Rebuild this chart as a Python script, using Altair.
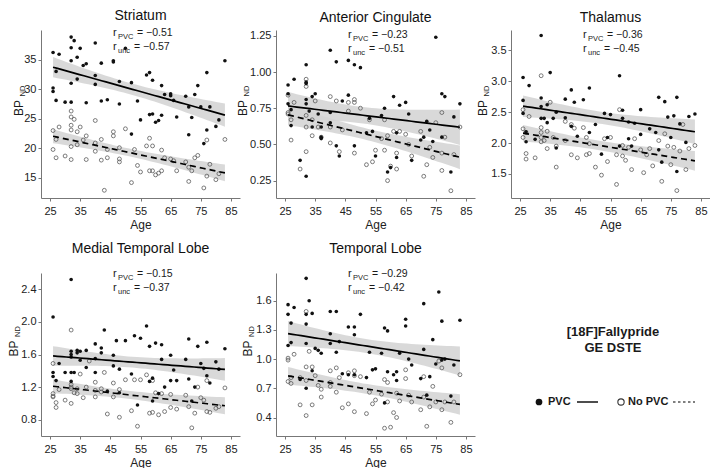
import altair as alt
import numpy as np
import pandas as pd

FONT = "Liberation Sans, Arial, Helvetica, sans-serif"
AGE_TICKS = [25, 35, 45, 55, 65, 75, 85]
AGE_DOMAIN = [22, 88]

# ---------------- data (age, BPnd) ----------------
STR_PVC = [(26,36.2),(26,30.2),(26,29.6),(27,33.0),(27,28.1),(28,35.9),(30,27.8),(32,38.8),(32,37.0),(32,34.8),
           (32,31.0),(32,27.8),(33,38.2),(34,35.4),(34,31.7),(35,36.9),(36,34.0),(37,34.3),(37,27.7),(40,37.8),
           (40,32.3),(40,30.8),(42,34.4),(42,28.0),(44,28.2),(46,34.8),(46,34.6),(48,31.3),(48,27.5),(50,36.9),
           (52,31.1),(52,22.4),(54,28.0),(55,24.8),(57,32.4),(58,32.8),(58,25.7),(59,25.8),(59,31.5),(60,24.4),
           (61,24.7),(62,30.6),(62,25.6),(63,29.1),(65,29.2),(65,28.9),(66,28.1),(67,25.3),(70,28.8),(71,27.0),
           (71,22.3),(72,25.2),(73,29.1),(74,30.6),(75,27.0),(76,20.8),(77,32.8),(77,23.1),(78,27.0),(80,23.7),
           (81,24.8),(83,34.8)]
STR_NOPVC = [(26,23.0),(26,19.8),(27,21.5),(27,18.4),(28,23.6),(30,18.7),(32,26.3),(32,25.3),(32,23.9),(32,23.1),
             (32,20.3),(32,18.1),(33,24.9),(34,22.8),(34,20.6),(35,23.6),(36,21.4),(37,22.1),(37,18.1),(40,24.7),
             (40,20.9),(40,19.5),(42,21.5),(42,18.0),(43,12.9),(44,19.8),(44,18.4),(46,22.8),(46,22.1),(48,20.1),
             (48,18.2),(48,17.7),(50,23.3),(52,14.2),(53,19.8),(54,17.1),(55,16.0),(57,20.4),(58,21.7),(58,16.2),
             (59,20.4),(59,16.2),(60,15.5),(61,15.8),(62,16.2),(62,19.7),(63,18.4),(65,18.2),(66,17.9),(67,16.2),
             (70,17.7),(71,16.8),(71,14.4),(72,16.2),(73,18.4),(74,18.8),(76,13.3),(77,21.4),(77,15.3),(78,17.3),
             (80,14.7),(81,15.7),(83,21.5)]

AC_PVC = [(26,0.91),(26,0.85),(26,0.78),(27,0.74),(27,0.63),(28,0.95),(30,0.39),(32,1.05),(32,0.93),(32,0.92),
          (32,0.81),(32,0.78),(32,0.28),(33,0.73),(34,0.83),(34,0.62),(35,0.85),(36,0.71),(37,0.62),(37,0.55),
          (37,0.54),(40,1.15),(40,0.72),(40,0.65),(42,1.07),(42,0.49),(43,0.42),(44,0.80),(46,1.08),(46,0.84),
          (48,1.05),(48,0.49),(50,1.03),(52,0.58),(53,0.68),(54,0.59),(55,0.42),(57,0.70),(58,0.75),(59,0.31),
          (60,0.34),(61,0.83),(62,0.58),(62,0.41),(63,0.77),(65,0.79),(66,0.71),(67,0.39),(70,0.53),(71,0.55),
          (72,0.66),(73,0.60),(74,0.52),(75,1.24),(77,0.85),(78,0.83),(77,0.55),(80,0.31),(81,0.69),(83,0.78)]
AC_NOPVC = [(26,0.84),(26,0.72),(26,0.71),(27,0.67),(27,0.53),(28,0.79),(30,0.33),(32,0.95),(32,0.90),(32,0.70),
            (32,0.62),(32,0.45),(34,0.67),(34,0.56),(35,0.80),(36,0.62),(37,0.55),(40,0.83),(40,0.62),(40,0.51),
            (42,0.80),(43,0.45),(44,0.60),(46,0.79),(46,0.73),(48,0.81),(48,0.79),(48,0.44),(50,0.75),(52,0.36),
            (53,0.67),(54,0.38),(55,0.46),(57,0.54),(58,0.46),(58,0.67),(59,0.56),(59,0.25),(60,0.35),(61,0.59),
            (62,0.44),(62,0.33),(63,0.59),(65,0.57),(66,0.50),(67,0.42),(70,0.59),(71,0.28),(72,0.36),(73,0.48),
            (74,0.41),(75,0.65),(77,0.44),(77,0.72),(77,0.32),(78,0.55),(80,0.18),(81,0.43),(83,0.62)]

TH_PVC = [(26,3.06),(26,2.69),(26,2.48),(27,2.18),(27,2.02),(28,2.93),(30,2.06),(32,3.74),(32,2.73),(32,2.59),
          (32,2.40),(33,2.40),(34,2.62),(34,2.33),(35,3.14),(36,2.40),(37,2.50),(37,1.92),(40,2.71),(40,2.41),
          (42,2.86),(42,2.27),(43,2.66),(44,2.11),(46,2.70),(48,2.89),(48,2.17),(50,2.30),(52,1.82),(53,2.48),
          (54,2.09),(55,2.46),(58,3.09),(58,1.95),(59,2.40),(59,2.53),(61,2.34),(61,2.07),(62,1.95),(63,2.32),
          (65,2.54),(65,2.14),(68,2.23),(70,2.17),(71,2.74),(71,1.89),(72,1.69),(73,2.67),(74,2.42),(75,2.09),
          (76,2.44),(77,2.74),(77,1.54),(78,2.31),(80,2.01),(81,2.43),(83,2.47)]
TH_NOPVC = [(26,2.54),(26,2.23),(26,2.09),(27,2.17),(27,1.83),(27,1.74),(28,2.43),(30,1.76),(32,3.09),(32,2.25),
            (32,2.17),(32,2.09),(32,2.02),(33,2.04),(34,2.19),(34,1.91),(35,2.66),(36,2.09),(37,1.95),(37,1.61),
            (40,2.35),(40,2.04),(42,2.30),(42,1.81),(43,2.24),(44,1.76),(46,2.25),(47,2.09),(47,1.81),(48,1.99),
            (48,1.83),(50,1.61),(52,1.48),(53,2.07),(54,1.70),(55,2.09),(57,1.81),(57,1.33),(58,2.54),(59,1.96),
            (59,1.79),(60,1.72),(61,1.93),(62,1.57),(63,2.07),(65,1.89),(66,1.52),(67,1.81),(68,1.91),(69,1.63),
            (71,2.04),(72,1.38),(73,2.15),(74,1.95),(75,1.65),(76,1.93),(77,1.23),(78,1.87),(79,2.30),(80,1.57),
            (81,1.91),(83,1.96)]

MTL_PVC = [(26,2.06),(26,1.38),(26,1.33),(27,1.28),(28,1.49),(30,1.38),(32,2.52),(32,1.64),(32,1.60),(32,1.57),
           (32,1.38),(32,1.27),(33,1.38),(34,1.65),(34,1.62),(35,1.64),(35,1.53),(37,1.65),(37,1.44),(40,1.73),
           (40,1.55),(40,1.38),(42,1.68),(42,1.62),(43,1.90),(44,1.15),(46,1.59),(46,1.46),(47,1.77),(48,1.42),
           (48,1.13),(50,1.77),(52,1.36),(53,1.83),(54,0.98),(55,1.80),(57,1.95),(58,1.70),(58,1.27),(59,1.31),
           (59,1.03),(60,1.74),(61,1.12),(62,1.72),(62,1.54),(63,1.20),(65,1.59),(65,1.28),(66,1.41),(67,1.28),
           (70,1.54),(71,1.79),(71,1.30),(72,1.03),(73,1.20),(74,1.70),(75,1.49),(76,1.43),(77,1.75),(77,1.34),
           (78,1.25),(80,1.51),(81,1.42),(83,1.67)]
MTL_NOPVC = [(26,1.49),(26,1.12),(26,1.09),(26,1.08),(27,1.01),(27,0.95),(28,1.17),(30,1.04),(32,1.90),(32,1.23),
             (32,1.20),(32,1.18),(32,1.00),(33,1.13),(34,1.18),(34,1.12),(35,1.36),(36,1.07),(37,1.20),(38,1.52),
             (40,1.26),(40,1.16),(40,1.08),(42,1.18),(42,1.14),(43,1.38),(44,0.87),(46,1.25),(46,1.08),(48,1.17),
             (48,0.83),(50,1.29),(52,0.91),(53,1.29),(54,0.72),(55,1.29),(57,1.35),(58,0.88),(59,1.28),(59,0.89),
             (60,1.13),(61,0.86),(62,1.12),(63,0.90),(65,1.11),(65,0.95),(67,0.93),(70,1.10),(71,0.96),(72,0.70),
             (73,0.88),(74,1.20),(75,1.07),(76,1.04),(77,1.28),(77,0.90),(78,0.89),(80,0.94),(81,0.96),(83,1.19)]

TL_PVC = [(26,1.56),(26,1.46),(26,1.14),(27,1.37),(27,1.17),(28,1.53),(30,0.79),(32,1.83),(32,1.46),(32,1.36),
          (32,1.16),(32,0.70),(33,1.60),(34,1.47),(34,0.88),(35,1.11),(36,1.09),(37,1.06),(40,1.49),(40,1.26),
          (40,1.16),(42,1.49),(42,1.07),(43,1.18),(44,0.85),(46,1.33),(46,0.84),(48,1.33),(48,1.25),(48,0.84),
          (50,1.46),(52,0.81),(53,1.07),(54,0.89),(55,0.90),(57,1.06),(58,1.32),(58,0.55),(59,1.29),(59,0.87),
          (61,0.84),(62,0.87),(62,0.78),(63,1.06),(65,1.41),(65,1.34),(66,1.00),(67,0.94),(70,0.80),(71,1.57),
          (71,1.10),(72,0.63),(73,0.82),(74,1.20),(75,0.95),(76,1.69),(77,1.39),(77,0.99),(78,1.00),(80,0.62),
          (81,0.94),(83,1.40)]
TL_NOPVC = [(26,1.01),(26,0.99),(26,0.77),(27,0.81),(27,0.75),(28,1.05),(30,0.81),(30,0.53),(32,1.49),(32,0.92),
            (32,0.78),(32,0.42),(33,1.08),(34,0.92),(34,0.53),(35,0.83),(36,0.73),(37,0.69),(37,0.61),(40,0.88),
            (40,0.76),(40,0.72),(42,0.91),(42,0.66),(43,0.81),(44,0.50),(46,0.86),(46,0.54),(48,0.88),(48,0.83),
            (48,0.46),(50,0.82),(52,0.44),(53,0.66),(54,0.54),(55,0.58),(57,0.64),(58,0.79),(58,0.29),(59,0.76),
            (59,0.56),(60,0.30),(61,0.45),(62,0.40),(62,0.65),(63,0.57),(65,0.89),(65,0.80),(66,0.63),(67,0.56),
            (70,0.48),(71,0.82),(71,0.61),(72,0.31),(73,0.51),(74,0.72),(75,0.56),(76,0.98),(77,0.91),(77,0.48),
            (78,0.56),(80,0.35),(81,0.56),(83,0.84)]

R_TEXT = {
    "Striatum": ("\u22120.51", "\u22120.57"),
    "Anterior Cingulate": ("\u22120.23", "\u22120.51"),
    "Thalamus": ("\u22120.36", "\u22120.45"),
    "Medial Temporal Lobe": ("\u22120.15", "\u22120.37"),
    "Temporal Lobe": ("\u22120.29", "\u22120.42"),
}

W = 199
H_TOP = 168
H_BOT = 163
BAND = "#d2d2d2"
TXT = pd.DataFrame({"k": [0]})


def to_df(pairs):
    return pd.DataFrame({"age": [a for a, _ in pairs], "bp": [b for _, b in pairs]})


def fit_df(pairs):
    x = np.array([a for a, _ in pairs], float)
    y = np.array([b for _, b in pairs], float)
    n = len(x)
    slope, icpt = np.polyfit(x, y, 1)
    res = y - (icpt + slope * x)
    s = np.sqrt((res ** 2).sum() / (n - 2))
    xm = x.mean()
    sxx = ((x - xm) ** 2).sum()
    g = np.linspace(x.min(), x.max(), 40)
    f = icpt + slope * g
    se = s * np.sqrt(1.0 / n + (g - xm) ** 2 / sxx)
    t = 2.0
    return pd.DataFrame({"age": g, "fit": f, "lo": f - t * se, "hi": f + t * se})


def label(text, x, y, size=11, weight="normal", align="left", angle=0, color="#1a1a1a"):
    kw = dict(text=text, fontSize=size, fontWeight=weight, align=align, baseline="middle",
              font=FONT, color=color)
    if angle:
        kw["angle"] = angle
    return alt.Chart(TXT).mark_text(**kw).encode(x=alt.value(x), y=alt.value(y))


def panel(title, pvc, nop, ydom, yvals, yfmt, bp_dx, r_y, H, toff):
    xenc = alt.X("age:Q", scale=alt.Scale(domain=AGE_DOMAIN, nice=False, zero=False),
                 axis=alt.Axis(values=AGE_TICKS, title="Age"))

    def yenc(field):
        return alt.Y(f"{field}:Q", scale=alt.Scale(domain=ydom, nice=False, zero=False),
                     axis=alt.Axis(values=yvals, format=yfmt, title=None))

    fp, fn = fit_df(pvc), fit_df(nop)
    band_p = alt.Chart(fp).mark_area(color=BAND, opacity=0.85).encode(x=xenc, y=yenc("lo"), y2="hi:Q")
    band_n = alt.Chart(fn).mark_area(color=BAND, opacity=0.85).encode(x=xenc, y=yenc("lo"), y2="hi:Q")
    pts_n = alt.Chart(to_df(nop)).mark_point(shape="circle", filled=False, size=15, color="#5a5a5a",
                                             strokeWidth=0.8, opacity=1).encode(x=xenc, y=yenc("bp"))
    pts_p = alt.Chart(to_df(pvc)).mark_point(shape="circle", filled=True, size=13, color="#111111",
                                             opacity=1).encode(x=xenc, y=yenc("bp"))
    line_p = alt.Chart(fp).mark_line(color="black", strokeWidth=1.7).encode(x=xenc, y=yenc("fit"))
    line_n = alt.Chart(fn).mark_line(color="black", strokeWidth=1.7, strokeDash=[6, 4]).encode(
        x=xenc, y=yenc("fit"))

    rp, ru = R_TEXT[title]
    x0 = 72
    y1, y2 = r_y, r_y + 14
    texts = [
        label("r", x0, y1, size=11),
        label("PVC", x0 + 5, y1 + 3.5, size=7.5),
        label("= " + rp, x0 + 24, y1, size=10.5),
        label("r", x0, y2, size=11),
        label("unc", x0 + 5, y2 + 3.5, size=7.5),
        label("= " + ru, x0 + 21, y2, size=10.5),
        label("BP", bp_dx, H / 2 - 6, size=12, align="center", angle=270),
        label("ND", bp_dx + 3.5, H / 2 - 23, size=7.5, align="center", angle=270),
    ]
    return alt.layer(band_p, band_n, pts_n, pts_p, line_p, line_n, *texts).properties(
        width=W, height=H,
        title=alt.TitleParams(title, fontSize=14, fontWeight="normal", font=FONT, color="#111111",
                              offset=toff, anchor="middle"),
    )


striatum = panel("Striatum", STR_PVC, STR_NOPVC, [11.6, 40.0], [15, 20, 25, 30, 35], "d", -22, 3, H_TOP, 4)
ac = panel("Anterior Cingulate", AC_PVC, AC_NOPVC, [0.13, 1.29], [0.25, 0.5, 0.75, 1.0, 1.25], ".2f", -33, 5, H_TOP, 4)
th = panel("Thalamus", TH_PVC, TH_NOPVC, [1.11, 3.83], [1.5, 2.0, 2.5, 3.0, 3.5], ".1f", -28, 5, H_TOP, 4)
mtl = panel("Medial Temporal Lobe", MTL_PVC, MTL_NOPVC, [0.6, 2.6], [0.8, 1.2, 1.6, 2.0, 2.4], ".1f", -27, 1, H_BOT, 12)
tl = panel("Temporal Lobe", TL_PVC, TL_NOPVC, [0.21, 1.885], [0.4, 0.7, 1.0, 1.3, 1.6], ".1f", -28, 1, H_BOT, 12)

legend_panel = alt.layer(
    label("[18F]Fallypride", 102, 59, size=13, weight="bold", align="center"),
    label("GE DSTE", 102, 75, size=13, weight="bold", align="center"),
    alt.Chart(TXT).mark_point(shape="circle", filled=True, size=45, color="#111111", opacity=1).encode(
        x=alt.value(28), y=alt.value(129)),
    label("PVC", 37, 129, size=11, weight="bold"),
    alt.Chart(TXT).mark_rule(color="black", strokeWidth=1.4).encode(
        x=alt.value(66), x2=alt.value(87), y=alt.value(129)),
    alt.Chart(TXT).mark_point(shape="circle", filled=False, size=40, color="#333333", strokeWidth=1.1,
                              opacity=1).encode(x=alt.value(110), y=alt.value(129)),
    label("No PVC", 117, 129, size=11, weight="bold"),
    alt.Chart(TXT).mark_rule(color="black", strokeWidth=1.2, strokeDash=[2.5, 2.5]).encode(
        x=alt.value(162), x2=alt.value(184), y=alt.value(129)),
).properties(width=W, height=H_BOT)

chart = alt.concat(striatum, ac, th, mtl, tl, legend_panel, columns=3, bounds="flush",
                   spacing={"row": 75, "column": 36}).properties(
    padding={"left": 0, "top": 1, "right": 0, "bottom": 0}
).configure_view(stroke=None).configure_axis(
    grid=False, domainColor="#777777", domainWidth=1, tickColor="#777777", tickSize=3,
    labelFont=FONT, labelFontSize=11, labelColor="#222222", labelPadding=2,
    titleFont=FONT, titleFontSize=12, titleFontWeight="normal", titleColor="#222222",
).configure_axisX(labelPadding=4, titlePadding=3)

chart.save("out.html", embed_options={"renderer": "svg", "actions": False})
